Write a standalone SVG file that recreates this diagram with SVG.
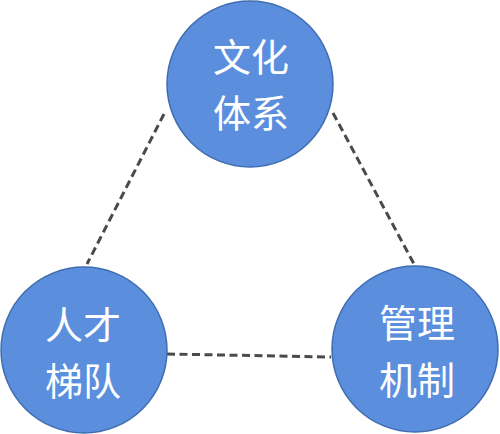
<svg xmlns="http://www.w3.org/2000/svg" width="500" height="434" viewBox="0 0 500 434">
<style>
.node circle{fill:#5b8fde;stroke:#3f6db0;stroke-width:1.5}
.node text{fill:#fff;font-family:"Noto Sans CJK SC","Noto Sans CJK JP",sans-serif;font-size:38px;text-anchor:middle}
.conn line{stroke:#4a4a4a;stroke-width:3;stroke-dasharray:8 4.5}
</style>
<rect width="500" height="434" fill="#fff"/>
<g id="connectors" class="conn">
<line x1="164" y1="114" x2="87" y2="264"/>
<line x1="333" y1="113" x2="414" y2="264"/>
<line x1="167" y1="354" x2="331" y2="357"/>
</g>
<g id="culture" class="node">
<circle cx="250" cy="84" r="83"/>
<text x="251" y="71">文化</text>
<text x="251" y="127">体系</text>
</g>
<g id="talent" class="node">
<circle cx="84" cy="350" r="83"/>
<text x="83" y="339">人才</text>
<text x="83" y="395">梯队</text>
</g>
<g id="management" class="node">
<circle cx="415" cy="349" r="83"/>
<text x="417" y="337">管理</text>
<text x="417" y="394">机制</text>
</g>
</svg>
